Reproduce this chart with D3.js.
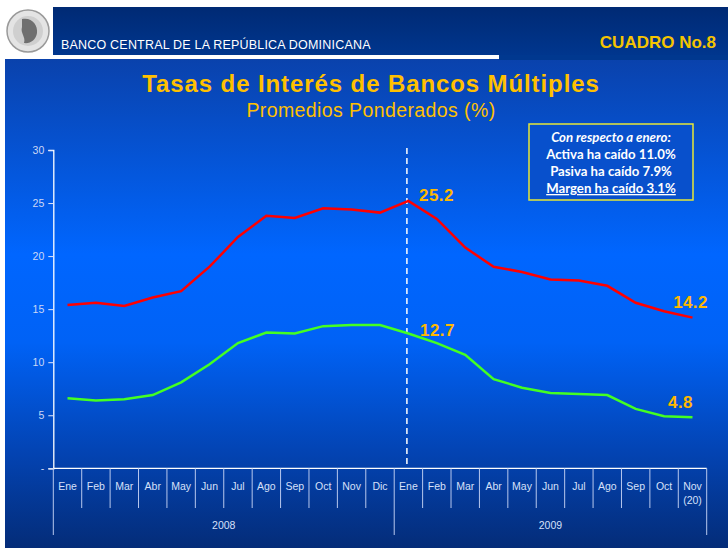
<!DOCTYPE html>
<html>
<head>
<meta charset="utf-8">
<script src="https://cdn.jsdelivr.net/npm/d3@7"></script>
<style>
  body { margin: 0; background: #fff; }
  svg { display: block; font-family: "Liberation Sans", Arial, sans-serif; }
</style>
</head>
<body>
<script>
const width = 728;
const height = 548;

// data
const months = ["Ene", "Feb", "Mar", "Abr", "May", "Jun", "Jul", "Ago", "Sep", "Oct", "Nov", "Dic",
  "Ene", "Feb", "Mar", "Abr", "May", "Jun", "Jul", "Ago", "Sep", "Oct", "Nov"];
const years = [{ label: "2008", from: 0, to: 12 }, { label: "2009", from: 12, to: 23 }];
const activa = [15.4, 15.6, 15.3, 16.1, 16.7, 19.0, 21.8, 23.8, 23.6, 24.5, 24.4, 24.1,
  25.2, 23.5, 20.8, 19.0, 18.5, 17.8, 17.7, 17.2, 15.6, 14.8, 14.2];
const pasiva = [6.6, 6.4, 6.5, 6.9, 8.1, 9.8, 11.8, 12.8, 12.7, 13.4, 13.5, 13.5,
  12.7, 11.8, 10.7, 8.4, 7.6, 7.1, 7.0, 6.9, 5.6, 4.9, 4.8];
const yTicks = [0, 5, 10, 15, 20, 25, 30];
const callouts = [
  { series: "activa", i: 12, text: "25.2" },
  { series: "pasiva", i: 12, text: "12.7" },
  { series: "activa", i: 22, text: "14.2" },
  { series: "pasiva", i: 22, text: "4.8" },
];
const boxLines = ["Con respecto a enero:", "Activa ha caído 11.0%", "Pasiva ha caído 7.9%", "Margen ha caído 3.1%"];

const svg = d3.select("body").append("svg")
  .attr("width", width)
  .attr("height", height);

const defs = svg.append("defs");
const bg = defs.append("linearGradient").attr("id", "bg")
  .attr("x1", 0).attr("y1", 0).attr("x2", 0).attr("y2", 1);
bg.append("stop").attr("offset", "0%").attr("stop-color", "#0a42ac");
bg.append("stop").attr("offset", "40%").attr("stop-color", "#0066ff");
bg.append("stop").attr("offset", "58%").attr("stop-color", "#0062f6");
bg.append("stop").attr("offset", "80%").attr("stop-color", "#0344b4");
bg.append("stop").attr("offset", "100%").attr("stop-color", "#042c78");

const hd = defs.append("linearGradient").attr("id", "hd")
  .attr("x1", 0).attr("y1", 0).attr("x2", 0).attr("y2", 1);
hd.append("stop").attr("offset", "0%").attr("stop-color", "#002a74");
hd.append("stop").attr("offset", "100%").attr("stop-color", "#00368e");

// panels
svg.append("rect").attr("x", 5).attr("y", 59).attr("width", width - 5).attr("height", height - 59)
  .attr("fill", "url(#bg)");
svg.append("rect").attr("x", 53).attr("y", 7).attr("width", width - 53).attr("height", 48)
  .attr("fill", "url(#hd)");
svg.append("rect").attr("x", 499).attr("y", 55).attr("width", width - 499).attr("height", 5)
  .attr("fill", "#00388f");

// logo (rough seal)
const logo = svg.append("g").attr("transform", "translate(28,31)");
logo.append("circle").attr("r", 21).attr("fill", "#e4e4e4").attr("stroke", "#9a9a9a").attr("stroke-width", 1.5);
logo.append("circle").attr("r", 15).attr("fill", "#cfcfcf");
logo.append("path").attr("d", "M-6,-12 C4,-14 10,-6 9,2 C8,9 2,13 -4,12 C-2,6 -8,2 -6,-4 Z")
  .attr("fill", "#6f6f6f");

svg.append("text").attr("x", 61).attr("y", 48.5)
  .attr("fill", "#fff").attr("font-size", 12.5).attr("letter-spacing", 0.2)
  .text("BANCO CENTRAL DE LA REPÚBLICA DOMINICANA");
svg.append("text").attr("x", 716).attr("y", 47.5).attr("text-anchor", "end")
  .attr("fill", "#f5c400").attr("font-size", 17).attr("font-weight", "bold")
  .text("CUADRO No.8");

svg.append("text").attr("x", 371).attr("y", 92).attr("text-anchor", "middle")
  .attr("fill", "#ffc000").attr("font-size", 24).attr("font-weight", "bold")
  .attr("letter-spacing", 0.9)
  .text("Tasas de Interés de Bancos Múltiples");
svg.append("text").attr("x", 371).attr("y", 117).attr("text-anchor", "middle")
  .attr("fill", "#ffc000").attr("font-size", 19.5).attr("letter-spacing", 0.4)
  .text("Promedios Ponderados (%)");

// scales
const x = d3.scaleBand().domain(d3.range(months.length)).range([53.3, 706.7]);
const y = d3.scaleLinear().domain([0, 30]).range([468.3, 150]);
const cx = (i) => x(i) + x.bandwidth() / 2;

// y axis
const yAxis = svg.append("g").attr("transform", "translate(53.3,0)")
  .call(d3.axisLeft(y).tickValues(yTicks).tickSize(5).tickPadding(4)
    .tickFormat((d) => (d === 0 ? "-" : d)));
yAxis.select(".domain").attr("stroke", "#fff").attr("stroke-width", 1.3);
yAxis.selectAll(".tick line").attr("stroke", "#dfe6ff");
yAxis.selectAll(".tick text").attr("fill", "#cdd8f5").attr("font-size", 10.5)
  .attr("font-family", "Liberation Sans, Arial, sans-serif");

// x axis
const xg = svg.append("g");
xg.append("line").attr("x1", 53.3).attr("x2", 706.7).attr("y1", y(0)).attr("y2", y(0))
  .attr("stroke", "#fff").attr("stroke-width", 1.3);
xg.selectAll("line.div").data(d3.range(months.length + 1)).join("line")
  .attr("class", "div")
  .attr("x1", (i) => (i < months.length ? x(i) : x.range()[1]))
  .attr("x2", (i) => (i < months.length ? x(i) : x.range()[1]))
  .attr("y1", y(0))
  .attr("y2", (i) => (i === 0 || i === 12 || i === months.length ? 535 : 508))
  .attr("stroke", "#b8c8ee").attr("stroke-width", 1);
xg.selectAll("text.m").data(months).join("text")
  .attr("class", "m")
  .attr("x", (d, i) => cx(i)).attr("y", 490)
  .attr("text-anchor", "middle").attr("fill", "#d6e0fa").attr("font-size", 10.5)
  .attr("font-family", "Liberation Sans Narrow, Liberation Sans, Arial, sans-serif")
  .text((d) => d);
xg.append("text").attr("x", cx(months.length - 1)).attr("y", 504)
  .attr("text-anchor", "middle").attr("fill", "#d6e0fa").attr("font-size", 10.5)
  .attr("font-family", "Liberation Sans Narrow, Liberation Sans, Arial, sans-serif")
  .text("(20)");
xg.selectAll("text.yr").data(years).join("text")
  .attr("class", "yr")
  .attr("x", (d) => (x(d.from) + (d.to < months.length ? x(d.to) : x.range()[1])) / 2)
  .attr("y", 529).attr("text-anchor", "middle").attr("fill", "#d6e0fa").attr("font-size", 10.5)
  .text((d) => d.label);

// dashed separator at Ene 2009
svg.append("line").attr("x1", cx(12) - 1.5).attr("x2", cx(12) - 1.5)
  .attr("y1", 148).attr("y2", y(0))
  .attr("stroke", "#fff").attr("stroke-width", 1.5).attr("stroke-dasharray", "6,4");

// lines
const line = d3.line().x((d, i) => cx(i)).y((d) => y(d));
svg.append("path").datum(activa).attr("d", line)
  .attr("fill", "none").attr("stroke", "#ff0000").attr("stroke-width", 2.5);
svg.append("path").datum(pasiva).attr("d", line)
  .attr("fill", "none").attr("stroke", "#44ff22").attr("stroke-width", 2.5);

// callouts
const seriesData = { activa, pasiva };
const offsets = { "25.2": [28, 0], "12.7": [29, 2], "14.2": [-2, -10], "4.8": [-12, -9] };
svg.selectAll("text.call").data(callouts).join("text")
  .attr("class", "call")
  .attr("x", (d) => cx(d.i) + offsets[d.text][0])
  .attr("y", (d) => y(seriesData[d.series][d.i]) + offsets[d.text][1])
  .attr("text-anchor", "middle")
  .attr("fill", "#ffb800").attr("font-size", 17).attr("font-weight", "bold")
  .attr("letter-spacing", 0.4)
  .text((d) => d.text);

// note box
const box = svg.append("g").attr("transform", "translate(529,124)");
box.append("rect").attr("width", 164).attr("height", 76)
  .attr("fill", "#0850cc").attr("stroke", "#e8e836").attr("stroke-width", 1.5);
box.selectAll("text").data(boxLines).join("text")
  .attr("x", 82).attr("y", (d, i) => 18 + i * 17)
  .attr("text-anchor", "middle").attr("fill", "#fff").attr("font-size", 13.2)
  .attr("font-family", "Lato, 'Open Sans', sans-serif")
  .attr("font-weight", "bold")
  .attr("font-style", (d, i) => (i === 0 ? "italic" : "normal"))
  .attr("text-decoration", (d, i) => (i === 3 ? "underline" : "none"))
  .text((d) => d);
</script>
</body>
</html>
